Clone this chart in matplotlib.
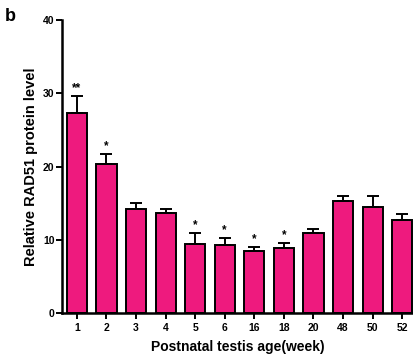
import numpy as np
import matplotlib.pyplot as plt

plt.rcParams['font.family'] = ['Liberation Sans', 'DejaVu Sans']
plt.rcParams['font.weight'] = 'bold'

# data
weeks = ['1', '2', '3', '4', '5', '6', '16', '18', '20', '48', '50', '52']
level = [27.3, 20.4, 14.2, 13.7, 9.4, 9.3, 8.5, 8.8, 10.9, 15.3, 14.5, 12.7]
err = [2.3, 1.3, 0.8, 0.5, 1.5, 0.9, 0.5, 0.7, 0.5, 0.7, 1.5, 0.8]
stars = ['**', '*', '', '', '*', '*', '*', '*', '', '', '', '']

fig = plt.figure(figsize=(4.14, 3.6), dpi=100)
ax = fig.add_axes([0.150, 0.131, 0.85, 0.813])

x = np.arange(len(weeks))
ax.bar(x, level, width=0.68, color='#EE1A7E', edgecolor='black', linewidth=1.4, zorder=2)
ax.errorbar(x, level, yerr=[np.zeros(len(err)), err], fmt='none', ecolor='black',
            elinewidth=1.4, capsize=4, capthick=1.4, zorder=3)
for xi, v, e, s in zip(x, level, err, stars):
    if s:
        ax.text(xi, v + e + 0.3, s, ha='center', va='bottom', fontsize=8.5, fontweight='bold')

ax.set_xlim(-0.5, 11.4)
ax.set_ylim(0, 40)
ax.set_yticks([0, 10, 20, 30, 40])
ax.set_xticks(x)
ax.set_xticklabels(weeks)
ax.tick_params(labelsize=7.5, width=1.4, length=4)
ax.tick_params(axis='y', pad=1.5)
for side in ['top', 'right']:
    ax.spines[side].set_visible(False)
for side in ['left', 'bottom']:
    ax.spines[side].set_linewidth(1.8)

ax.set_ylabel('Relative RAD51 protein level', fontsize=10.5, fontweight='bold')
ax.yaxis.set_label_coords(-0.068, 0.5)
ax.set_xlabel('Postnatal testis age(week)', fontsize=10, fontweight='bold', labelpad=5)
fig.text(0.012, 0.955, 'b', fontsize=13, fontweight='bold', va='center')

fig.savefig('out.png', dpi=100)
